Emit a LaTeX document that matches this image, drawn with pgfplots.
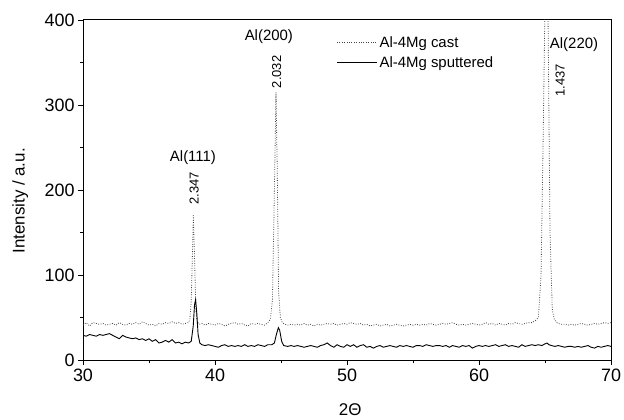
\documentclass[border=0pt]{standalone}
\usepackage{fontspec}
\setmainfont{Liberation Sans}
\usepackage{pgfplots}
\pgfplotsset{compat=1.18}
\begin{document}
\begin{tikzpicture}
\begin{axis}[
  scale only axis, width=528bp, height=340bp,
  xmin=30, xmax=70, ymin=0, ymax=400,
  xtick={30,40,...,70}, ytick={0,100,...,400},
  minor x tick num=1, minor y tick num=1,
  tick pos=left, tick align=outside,
  major tick length=5bp, minor tick length=3bp,
  every tick/.style={black, line width=0.8bp},
  axis line style={line width=1bp},
  /pgf/number format/assume math mode=true,
  tick label style={font=\fontsize{18}{21}\selectfont},
  label style={font=\fontsize{17}{20}\selectfont},
  xlabel={2Θ}, ylabel={Intensity / a.u.},
  xlabel style={at={(axis description cs:0.506,-0.146)}, anchor=center},
  ylabel style={at={(axis description cs:-0.119,0.468)}, anchor=center},
  legend style={at={(0.48,0.958)}, anchor=north west, draw=none, fill=none,
    font=\fontsize{15}{18}\selectfont, row sep=4bp, inner xsep=0pt, inner ysep=0pt},
  legend cell align=left,
  legend image code/.code={\draw[#1] (0bp,0bp) -- (40bp,0bp);},
]
\addplot[black!75, line width=0.8bp, dash pattern=on 0.8bp off 1.6bp] coordinates {
(30.0,41) (30.25,44) (30.5,40) (30.75,44) (31,43) (31.25,42) (31.5,43) (31.75,41) (32,42) (32.25,43) (32.5,41) (32.75,44) (33,42) (33.25,41) (33.5,43) (33.75,42) (34,44) (34.25,42) (34.5,45) (34.75,43) (35,41) (35.25,42) (35.5,40) (35.75,43) (36,42) (36.25,44) (36.5,43) (36.75,45) (37,43) (37.25,44) (37.5,42) (37.75,43) (38.0,44) (38.1,48) (38.2,70) (38.3,130) (38.36,170) (38.45,120) (38.55,60) (38.65,45) (38.8,42) (39,43) (39.25,41) (39.5,43) (39.75,42) (40,41) (40.25,43) (40.5,42) (40.75,40) (41,42) (41.25,43) (41.5,44) (41.75,42) (42,43) (42.25,41) (42.5,40) (42.75,43) (43,42) (43.25,43) (43.5,42) (43.75,41) (44,44) (44.2,48) (44.35,70) (44.5,200) (44.62,315) (44.72,220) (44.82,80) (44.95,50) (45.1,44) (45.3,42)
(45.5,41) (45.75,42) (46,41) (46.25,42) (46.5,41) (46.75,43) (47,41) (47.25,42) (47.5,40) (47.75,42) (48,41) (48.25,42) (48.5,43) (48.75,42) (49,43) (49.25,41) (49.5,42) (49.75,43) (50,42) (50.25,44) (50.5,43) (50.75,42) (51,43) (51.25,41) (51.5,42) (51.75,40) (52,41) (52.25,42) (52.5,40) (52.75,41) (53,42) (53.25,40) (53.5,41) (53.75,42) (54,41) (54.25,40) (54.5,41) (54.75,42) (55,41) (55.25,42) (55.5,41) (55.75,42) (56,41) (56.25,43) (56.5,42) (56.75,41) (57,42) (57.25,43) (57.5,42) (57.75,43) (58,44) (58.25,42) (58.5,41) (58.75,42) (59,41) (59.25,42) (59.5,43) (59.75,42) (60,41) (60.25,42) (60.5,44) (60.75,42) (61,43) (61.25,41) (61.5,43) (61.75,42) (62,41) (62.25,43) (62.5,42) (62.75,44) (63,43) (63.25,42) (63.5,43) (63.75,44) (64,44) (64.25,46)
(64.5,50) (64.7,100) (64.85,250) (65.0,420) (65.1,480) (65.22,420) (65.38,150) (65.55,60) (65.7,48) (65.9,44)
(66,43) (66.25,42) (66.5,42) (66.75,41) (67,42) (67.25,41) (67.5,42) (67.75,43) (68,42) (68.25,41) (68.5,42) (68.75,43) (69,42) (69.25,43) (69.5,44) (69.75,43) (70,44)
};
\addlegendentry{Al-4Mg cast}
\addplot[black, line width=0.9bp] coordinates {
(30,29) (30.25,28) (30.5,30) (30.75,29) (31,28) (31.25,30) (31.5,29) (31.75,30) (32,31) (32.25,29) (32.5,27) (32.75,25) (33,29) (33.25,27) (33.5,26) (33.75,25) (34,26) (34.25,24) (34.5,25) (34.75,23) (35,25) (35.25,22) (35.5,24) (35.75,20) (36,21) (36.25,23) (36.5,21) (36.75,24) (37,20) (37.25,21) (37.5,19) (37.75,21) (38,20) (38.2,22) (38.35,40) (38.45,65) (38.53,71) (38.62,55) (38.72,30) (38.85,20) (39,18) (39.25,17) (39.5,18) (39.75,17) (40,16) (40.25,15) (40.5,17) (40.75,18) (41,16) (41.25,17) (41.5,16) (41.75,17) (42,16) (42.25,18) (42.5,16) (42.75,17) (43,16) (43.25,18) (43.5,17) (43.75,16) (44,18) (44.3,18) (44.5,20) (44.65,30) (44.8,38) (44.9,35) (45.05,22) (45.2,17) (45.5,16) (45.75,17) (46,16) (46.25,17) (46.5,16) (46.75,15) (47,16) (47.25,17) (47.5,16) (47.75,15)
(48,17) (48.25,18) (48.5,20) (48.75,17) (49,15) (49.25,18) (49.5,16) (49.75,15) (50,18) (50.25,16) (50.5,18) (50.75,15) (51,17) (51.25,18) (51.5,15) (51.75,16) (52,14) (52.25,16) (52.5,17) (52.75,15) (53,16) (53.25,17) (53.5,16) (53.75,15) (54,17) (54.25,16) (54.5,17) (54.75,16) (55,15) (55.25,17) (55.5,17) (55.75,16) (56,18) (56.25,17) (56.5,16) (56.75,17) (57,17) (57.25,16) (57.5,17) (57.75,15) (58,17) (58.25,16) (58.5,15) (58.75,17) (59,16) (59.25,17) (59.5,14) (59.75,16) (60,17) (60.25,16) (60.5,17) (60.75,16) (61,17) (61.25,18) (61.5,16) (61.75,17) (62,18) (62.25,16) (62.5,17) (62.75,16) (63,15) (63.25,18) (63.5,16) (63.75,17) (64,18) (64.25,17) (64.5,18) (64.75,17) (65,19) (65.15,20) (65.3,18) (65.5,17) (65.75,16) (66,17) (66.25,16) (66.5,15) (66.75,16) (67,16) (67.25,15) (67.5,16) (67.75,15) (68,16) (68.25,17) (68.5,15) (68.75,14) (69,16) (69.25,15) (69.5,16) (69.75,17) (70,16)
};
\addlegendentry{Al-4Mg sputtered}
\node[font=\fontsize{15}{18}\selectfont] at (axis cs:38.33,238) {Al(111)};
\node[font=\fontsize{13}{15}\selectfont, rotate=90] at (axis cs:38.43,202) {2.347};
\node[font=\fontsize{15}{18}\selectfont] at (axis cs:44.08,380) {Al(200)};
\node[font=\fontsize{13}{15}\selectfont, rotate=90] at (axis cs:44.67,339) {2.032};
\node[font=\fontsize{15}{18}\selectfont] at (axis cs:67.2,371) {Al(220)};
\node[font=\fontsize{13}{15}\selectfont, rotate=90] at (axis cs:66.14,329) {1.437};
\coordinate (BL) at (rel axis cs:0,0);
\coordinate (TR) at (rel axis cs:1,1);
\end{axis}
\pgfresetboundingbox
\path ([shift={(-83bp,-59bp)}]BL) rectangle ([shift={(13bp,20bp)}]TR);
\end{tikzpicture}
\end{document}
